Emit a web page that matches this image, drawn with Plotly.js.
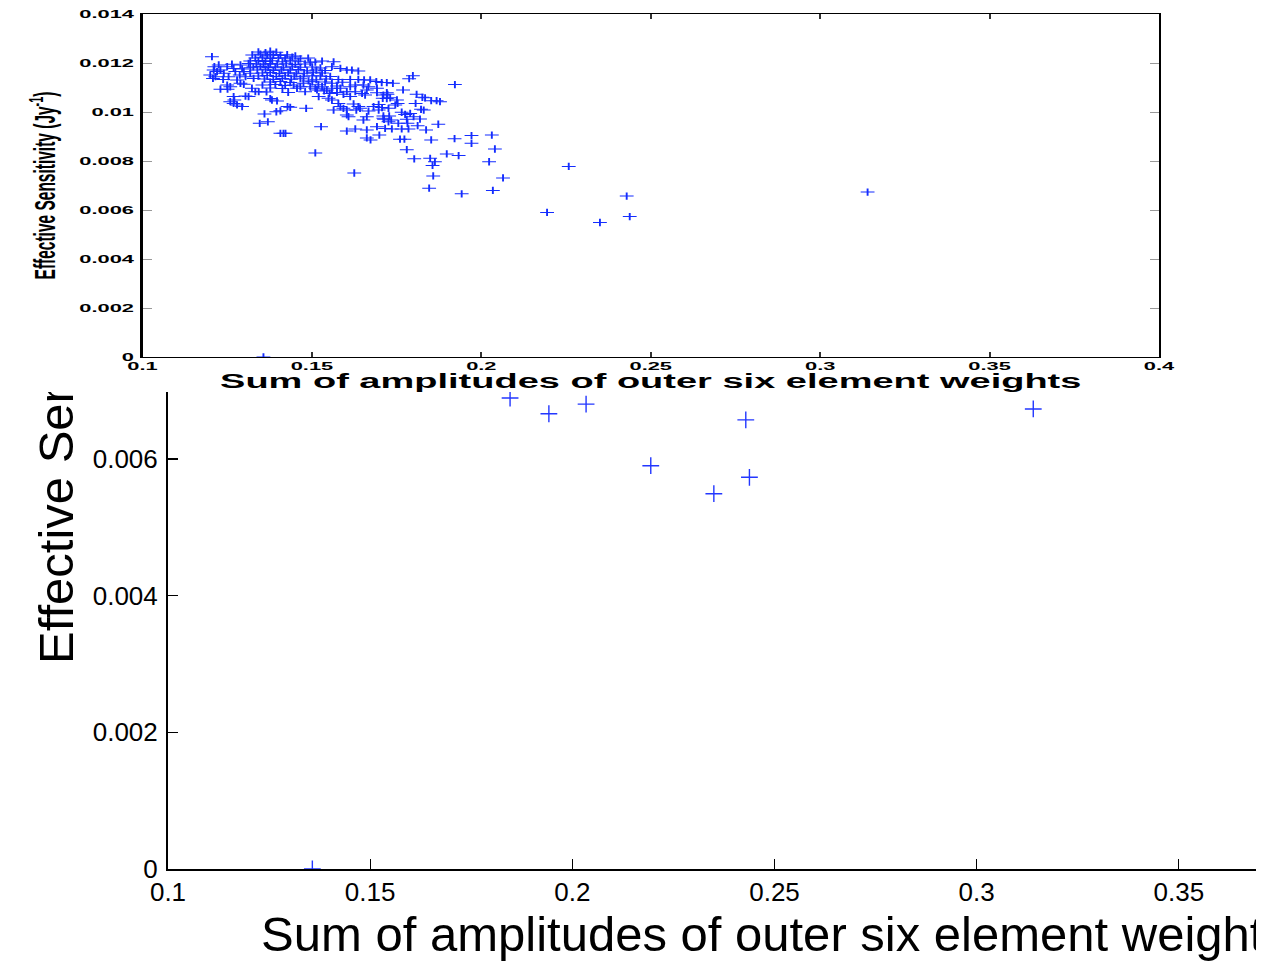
<!DOCTYPE html>
<html>
<head>
<meta charset="utf-8">
<script src="https://cdn.plot.ly/plotly-3.0.1.min.js"></script>
<style>
html, body { margin:0; padding:0; width:1264px; height:961px; overflow:hidden; background:#fff; }
#clip { position:absolute; left:0; top:0; width:1256px; height:961px; overflow:hidden; z-index:1; }
#back { position:absolute; left:0; top:-200px; width:1500px; height:1161px; }
#front { position:absolute; left:0; top:0; width:665px; height:392px; z-index:2; background:#fff;
         transform:scaleX(1.9); transform-origin:0 0; }
</style>
</head>
<body>
<div id="clip"><div id="back"></div></div>
<div id="front"></div>
<script>
// Sum of amplitudes of outer six element weights
const sumAmplitude = [
 0.1205,0.3140,0.2258,0.2429,0.2438,0.2350,0.2194,0.2034,0.1942,0.1846,
 0.2064,0.1922,0.1625,0.1510,0.1357,0.1858,0.2023,0.2040,0.2031,0.1971,
 0.1971,0.1921,0.1898,0.1933,0.1802,0.1849,0.1863,0.1856,0.1780,0.1852,
 0.1760,0.1773,0.1662,0.1673,0.1699,0.1628,0.1603,0.1736,0.1785,0.1765,
 0.1837,0.1812,0.1873,0.1755,0.1782,0.1726,0.1711,0.1662,0.1652,0.1527,
 0.1407,0.1416,0.1422,0.1346,0.1370,0.1360,0.1395,0.1407,0.1483,0.1428,
 0.1436,0.1294,0.1279,0.1269,0.1259,0.1382,0.1397,0.1377,0.1333,0.1304,
 0.1313,0.1343,0.1323,0.1271,0.1259,0.1251,0.1230,0.1250,0.1238,0.1208,
 0.1200,0.1215,0.1212,0.1210,0.1225,0.1220,0.1230,0.1240,0.1254,0.1250,
 0.1264,0.1269,0.1274,0.1289,0.1294,0.1299,0.1287,0.1304,0.1313,0.1318,
 0.1318,0.1328,0.1279,0.1289,0.1299,0.1269,0.1446,0.1456,0.1466,0.1475,
 0.1490,0.1495,0.1564,0.1559,0.1584,0.1603,0.1618,0.1637,0.1798,0.1787,
 0.1654,0.1672,0.1690,0.1706,0.1721,0.1739,0.1769,0.1809,0.1834,0.1852,
 0.1868,0.1878,0.1826,0.1806,0.1652,0.1667,0.1692,0.1628,0.1613,0.1584,
 0.1711,0.1723,0.1731,0.1648,0.1657,0.1628,0.1603,0.1593,0.1574,0.1559,
 0.1544,0.1530,0.1510,0.1495,0.1520,0.1549,0.1559,0.1578,0.1584,0.1593,
 0.1603,0.1637,0.1642,0.1667,0.1697,0.1707,0.1726,0.1765,0.1790,0.1775,
 0.1800,0.1819,0.1564,0.1603,0.1734,0.1716,0.1692,0.1662,0.1711,0.1728,
 0.1697,0.1682,0.1631,0.1623,0.1608,0.1552,0.1536,0.1515,0.1613,0.1539,
 0.1559,0.1574,0.1613,0.1637,0.1662,0.1822,0.1830,0.1780,0.1692,0.1721,
 0.1709,0.1751,0.1753,0.1721,0.1746,0.1713,
 0.1342,0.1363,0.1377,0.1395,
 0.1324,0.1348,0.1368,0.1386,0.1407,0.1427,0.1451,
 0.1333,0.1354,0.1377,0.1401,0.1421,0.1442,0.1466,0.1489,
 0.1318,0.1342,0.1363,0.1383,0.1413,0.1436,0.1460,0.1510,0.1530,
 0.1336,0.1357,0.1377,0.1398,0.1424,0.1451,0.1480,
 0.1327,0.1348,0.1371,0.1392,0.1416,0.1442,0.1466,0.1501,0.1525,
 0.1339,0.1363,0.1386,0.1410,0.1436,0.1460,0.1486,0.1513,0.1539,
 0.1354,0.1377,0.1404,0.1430,0.1454,0.1477,0.1504,0.1530,
 0.1342,0.1368,0.1395,0.1421,0.1448,0.1475,0.1501,0.1525,0.1554,
 0.1360,0.1386,0.1413,0.1439,0.1466,0.1513,0.1542,0.1578,
 0.1377,0.1407,0.1436,0.1501,0.1590,
 0.1354,0.1392,0.1421,0.1519,
 0.1377,0.1413,
 0.1366,0.1430,0.1480
];
// Effective Sensitivity (Jy^-1)
const effSensitivity = [
 0.01226,0.00673,0.00778,0.00657,0.00573,0.00549,0.00590,0.00680,0.00666,0.00689,
 0.00731,0.01112,0.00751,0.00833,0.00000,0.00739,0.00797,0.00849,0.00906,0.00904,
 0.00872,0.00891,0.00829,0.00822,0.00809,0.00811,0.00797,0.00782,0.00846,0.00886,
 0.00889,0.00889,0.00894,0.00886,0.00906,0.00931,0.00922,0.00931,0.00931,0.00931,
 0.00927,0.00944,0.00950,0.00954,0.00954,0.00960,0.00974,0.00981,0.00967,0.00940,
 0.00913,0.00913,0.00913,0.00954,0.00960,0.00992,0.01001,0.01005,0.01015,0.01022,
 0.01019,0.01022,0.01029,0.01035,0.01042,0.01049,0.01045,0.01055,0.01083,0.01065,
 0.01063,0.01083,0.01097,0.01049,0.01103,0.01093,0.01093,0.01110,0.01133,0.01137,
 0.01151,0.01144,0.01185,0.01171,0.01192,0.01165,0.01171,0.01158,0.01144,0.01185,
 0.01195,0.01178,0.01165,0.01192,0.01176,0.01165,0.01151,0.01144,0.01198,0.01181,
 0.01158,0.01137,0.01131,0.01117,0.01113,0.01063,0.01110,0.01097,0.01103,0.01117,
 0.01127,0.01203,0.01205,0.01185,0.01178,0.01171,0.01171,0.01167,0.01148,0.01136,
 0.01131,0.01131,0.01124,0.01120,0.01120,0.01117,0.01090,0.01072,0.01058,0.01046,
 0.01046,0.01042,0.01060,0.01035,0.01110,0.01103,0.01097,0.01110,0.01103,0.01097,
 0.01069,0.01072,0.01058,0.01076,0.01069,0.01083,0.01083,0.01072,0.01080,0.01097,
 0.01090,0.01103,0.01097,0.01103,0.01063,0.01056,0.01049,0.01035,0.01022,0.01015,
 0.01008,0.01022,0.01015,0.01004,0.01031,0.01018,0.01015,0.00999,0.00994,0.00990,
 0.00981,0.00971,0.01008,0.00988,0.00967,0.00933,0.00940,0.00927,0.00984,0.00984,
 0.01008,0.01022,0.01008,0.01033,0.00981,0.01076,0.01086,0.01090,0.01063,0.01122,
 0.01117,0.01106,0.01133,0.01133,0.01090,0.01011,0.01008,0.00970,0.01079,0.01079,
 0.01056,0.01049,0.01035,0.01055,0.01029,0.00970,
 0.01245,0.01242,0.01248,0.01244,
 0.01233,0.01236,0.01230,0.01235,0.01231,0.01234,0.01229,
 0.01220,0.01223,0.01218,0.01221,0.01219,0.01224,0.01217,0.01220,
 0.01208,0.01210,0.01206,0.01209,0.01205,0.01211,0.01207,0.01204,0.01208,
 0.01196,0.01193,0.01198,0.01195,0.01197,0.01194,0.01196,
 0.01184,0.01186,0.01182,0.01185,0.01181,0.01187,0.01183,0.01184,0.01180,
 0.01171,0.01174,0.01169,0.01172,0.01170,0.01173,0.01168,0.01171,0.01169,
 0.01159,0.01161,0.01157,0.01160,0.01156,0.01158,0.01162,0.01159,
 0.01147,0.01149,0.01145,0.01148,0.01146,0.01144,0.01148,0.01147,0.01145,
 0.01135,0.01133,0.01137,0.01134,0.01136,0.01132,0.01135,0.01133,
 0.01122,0.01124,0.01120,0.01123,0.01121,
 0.01110,0.01112,0.01108,0.01111,
 0.01098,0.01096,
 0.01082,0.01080,0.01083
];
const xTickVals = [0.1,0.15,0.2,0.25,0.3,0.35,0.4];
const xTickText = ['0.1','0.15','0.2','0.25','0.3','0.35','0.4'];
const yTickVals = [0,0.002,0.004,0.006,0.008,0.01,0.012,0.014];
const yTickText = ['0','0.002','0.004','0.006','0.008','0.01','0.012','0.014'];
const xTitle = 'Sum of amplitudes of outer six element weights';
const yTitle = 'Effective Sensitivity (Jy<sup>-1</sup>)';

const FONT = 'Liberation Sans, Arial, Helvetica, sans-serif';

// ---------- back (zoomed) figure ----------
Plotly.newPlot('back', [{
  type:'scatter', mode:'markers', x:sumAmplitude, y:effSensitivity,
  marker:{symbol:'cross-thin', size:12, line:{width:1.4, color:'rgb(35,55,255)'}, color:'rgb(35,55,255)'},
  hoverinfo:'skip'
}], {
  width:1500, height:1161,
  margin:{l:168, r:119, t:112, b:92},
  paper_bgcolor:'#fff', plot_bgcolor:'#fff',
  showlegend:false,
  font:{family:FONT, color:'#000'},
  xaxis:{range:[0.1,0.4], tickvals:xTickVals, ticktext:xTickText, ticks:'inside', ticklen:10,
         tickwidth:1.3, tickcolor:'#000', showline:true, linecolor:'#000', linewidth:2,
         showgrid:false, zeroline:false, tickfont:{size:26, family:FONT}, ticklabelstandoff:-1,
         title:{text:xTitle, font:{size:49, family:FONT}, standoff:0}},
  yaxis:{range:[0,0.014], tickvals:yTickVals, ticktext:yTickText, ticks:'inside', ticklen:10,
         tickwidth:1.3, tickcolor:'#000', showline:true, linecolor:'#000', linewidth:2,
         showgrid:false, zeroline:false, tickfont:{size:26, family:FONT}, ticklabelstandoff:3,
         title:{text:yTitle, font:{size:49, family:FONT}, standoff:4}}
}, {staticPlot:true, displayModeBar:false});

// ---------- front (stretched) figure ----------
Plotly.newPlot('front', [{
  type:'scatter', mode:'markers', x:sumAmplitude, y:effSensitivity,
  marker:{symbol:'cross-thin', size:5.2, line:{width:1, color:'rgb(20,45,255)'}, color:'rgb(20,45,255)'},
  hoverinfo:'skip'
}], {
  width:665, height:392,
  margin:{l:75, r:55, t:14, b:35},
  paper_bgcolor:'#fff', plot_bgcolor:'#fff',
  showlegend:false,
  font:{family:FONT, color:'#000'},
  xaxis:{range:[0.1,0.4], tickvals:xTickVals, ticktext:xTickText, ticks:'inside', ticklen:5,
         tickwidth:1, tickcolor:'#333', showline:true, linecolor:'#000', linewidth:1.2, mirror:'allticks',
         showgrid:false, zeroline:false, tickfont:{size:11.5, family:FONT, weight:'bold'}, ticklabelstandoff:-2,
         title:{text:xTitle, font:{size:20, family:FONT, weight:'bold'}, standoff:0}},
  yaxis:{range:[0,0.014], tickvals:yTickVals, ticktext:yTickText, ticks:'inside', ticklen:5,
         tickwidth:1, tickcolor:'#999', showline:true, linecolor:'#000', linewidth:1.2, mirror:'allticks',
         showgrid:false, zeroline:false, tickfont:{size:11.5, family:FONT, weight:'bold'}, ticklabelstandoff:1,
         title:{text:yTitle, font:{size:15.5, family:FONT, weight:'bold'}, standoff:8}}
}, {staticPlot:true, displayModeBar:false});
</script>
</body>
</html>
